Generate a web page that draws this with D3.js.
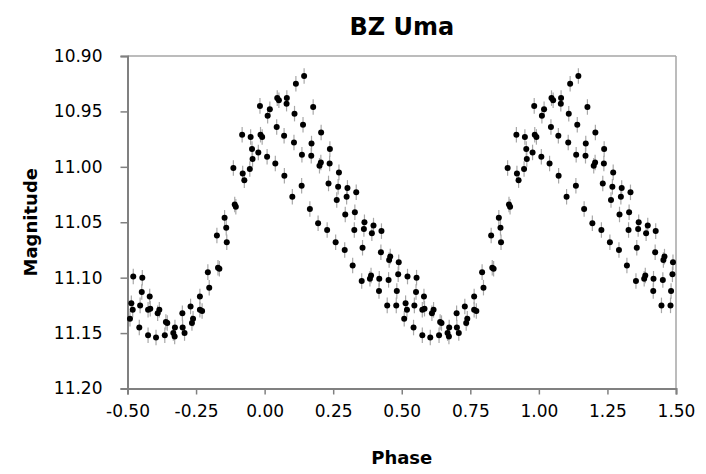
<!DOCTYPE html>
<html>
<head>
<meta charset="utf-8">
<script src="https://cdn.jsdelivr.net/npm/d3@7"></script>
<style>
  body { margin: 0; background: #fff; }
  text { font-family: "DejaVu Sans", Verdana, sans-serif; }
</style>
</head>
<body>
<div id="chart"></div>
<script>
// phase-folded light curve of BZ UMa
// each point is plotted twice: at its phase and at phase + 1
var phase = [
  -0.479, -0.446, -0.486, -0.481, -0.491, -0.454, -0.448, -0.457, -0.425, -0.417,
  -0.419, -0.425, -0.396, -0.390, -0.384, -0.360, -0.355, -0.364, -0.333, -0.327,
  -0.328, -0.300, -0.299, -0.292, -0.270, -0.265, -0.261, -0.236, -0.236, -0.228,
  -0.207, -0.202, -0.174, -0.170, -0.165, -0.146, -0.138, -0.140, -0.109, -0.105,
  -0.114, -0.080, -0.074, -0.082, -0.054, -0.044, -0.046, -0.051, -0.023, -0.015,
  -0.009, -0.017, 0.009, 0.011, 0.019, 0.046, 0.052, 0.044, 0.039, 0.071,
  0.072, 0.081, 0.080, 0.114, 0.144, 0.109, 0.107, 0.101, 0.140, 0.136,
  0.135, 0.177, 0.171, 0.170, 0.165, 0.206, 0.205, 0.200, 0.195, 0.238,
  0.237, 0.233, 0.228, 0.271, 0.268, 0.263, 0.259, 0.302, 0.299, 0.294,
  0.292, 0.334, 0.329, 0.327, 0.321, 0.364, 0.362, 0.357, 0.354, 0.397,
  0.391, 0.388, 0.384, 0.426, 0.424, 0.418, 0.417, 0.458, 0.454, 0.452,
  0.447, 0.489, 0.487, 0.482, 0.480
];
var mag = [
  11.099, 11.100, 11.123, 11.129, 11.137, 11.125, 11.113, 11.145, 11.129, 11.128,
  11.117, 11.152, 11.154, 11.132, 11.129, 11.140, 11.141, 11.152, 11.150, 11.145,
  11.153, 11.132, 11.145, 11.150, 11.126, 11.141, 11.137, 11.117, 11.129, 11.130,
  11.095, 11.109, 11.062, 11.091, 11.092, 11.046, 11.068, 11.055, 11.034, 11.036,
  11.001, 11.006, 11.012, 10.971, 11.002, 10.993, 10.984, 10.973, 10.987, 10.971,
  10.973, 10.945, 10.991, 10.954, 10.948, 10.938, 10.940, 10.964, 10.997, 10.972,
  11.008, 10.938, 10.943, 10.925, 10.918, 10.952, 10.978, 11.027, 10.962, 10.989,
  11.017, 10.946, 10.979, 10.990, 11.038, 10.969, 10.996, 10.999, 11.051, 10.984,
  10.997, 11.015, 11.057, 11.005, 11.018, 11.030, 11.068, 11.019, 11.027, 11.043,
  11.075, 11.023, 11.041, 11.057, 11.089, 11.050, 11.056, 11.073, 11.103, 11.053,
  11.060, 11.098, 11.101, 11.058, 11.077, 11.101, 11.112, 11.081, 11.084, 11.102,
  11.125, 11.086, 11.097, 11.112, 11.125
];
var magErr = 0.007;

var xTicks = [-0.5, -0.25, 0, 0.25, 0.5, 0.75, 1, 1.25, 1.5];
var yTicks = [10.90, 10.95, 11.00, 11.05, 11.10, 11.15, 11.20];

var W = 706, H = 474;
var margin = { top: 56, right: 30, bottom: 85.5, left: 127.5 },
    width = W - margin.left - margin.right,
    height = H - margin.top - margin.bottom;

var svg = d3.select("#chart")
  .append("svg")
  .attr("width", W)
  .attr("height", H);

var g = svg.append("g")
  .attr("transform", "translate(" + margin.left + "," + margin.top + ")");

var x = d3.scaleLinear().domain([-0.5, 1.5]).range([0, width]);
var y = d3.scaleLinear().domain([10.90, 11.20]).range([0, height]);

// build the two copies
var points = [];
for (var i = 0; i < phase.length; i++) {
  points.push({ p: phase[i], m: mag[i] });
  points.push({ p: phase[i] + 1, m: mag[i] });
}

// frame: top and right lighter
g.append("line")
  .attr("x1", 0).attr("x2", width).attr("y1", 0).attr("y2", 0)
  .attr("stroke", "#a6a6a6").attr("stroke-width", 1.5);
g.append("line")
  .attr("x1", width).attr("x2", width).attr("y1", 0).attr("y2", height)
  .attr("stroke", "#a6a6a6").attr("stroke-width", 1.5);

// axes
var xAxis = d3.axisBottom(x)
  .tickValues(xTicks)
  .tickSize(6)
  .tickPadding(10)
  .tickFormat(function(d) { return d.toFixed(2); });
var yAxis = d3.axisLeft(y)
  .tickValues(yTicks)
  .tickSize(7)
  .tickPadding(18)
  .tickFormat(function(d) { return d.toFixed(2); });

var gx = g.append("g")
  .attr("transform", "translate(0," + height + ")")
  .call(xAxis);
var gy = g.append("g").call(yAxis);

[gx, gy].forEach(function(ax) {
  ax.select(".domain").attr("stroke", "#808080").attr("stroke-width", 2);
  ax.selectAll(".tick line").attr("stroke", "#808080").attr("stroke-width", 1.5);
  ax.selectAll(".tick text")
    .attr("fill", "#000")
    .style("font-family", "'DejaVu Sans', Verdana, sans-serif")
    .style("font-size", "17px");
});

// error bars
g.selectAll(".err")
  .data(points)
  .enter()
  .append("line")
  .attr("class", "err")
  .attr("x1", function(d) { return x(d.p); })
  .attr("x2", function(d) { return x(d.p); })
  .attr("y1", function(d) { return y(d.m - magErr); })
  .attr("y2", function(d) { return y(d.m + magErr); })
  .attr("stroke", "#a8a8a8")
  .attr("stroke-width", 1.2);

// points
g.selectAll(".pt")
  .data(points)
  .enter()
  .append("circle")
  .attr("class", "pt")
  .attr("cx", function(d) { return x(d.p); })
  .attr("cy", function(d) { return y(d.m); })
  .attr("r", 3)
  .attr("fill", "#000");

// titles
svg.append("text")
  .attr("x", margin.left + width / 2)
  .attr("y", 35)
  .attr("text-anchor", "middle")
  .style("font-size", "24px")
  .style("font-weight", "bold")
  .text("BZ Uma");

svg.append("text")
  .attr("x", margin.left + width / 2)
  .attr("y", 464)
  .attr("text-anchor", "middle")
  .style("font-size", "18px")
  .style("font-weight", "bold")
  .text("Phase");

svg.append("text")
  .attr("transform", "translate(37," + (margin.top + height / 2) + ") rotate(-90)")
  .attr("text-anchor", "middle")
  .style("font-size", "18px")
  .style("font-weight", "bold")
  .text("Magnitude");
</script>
</body>
</html>
